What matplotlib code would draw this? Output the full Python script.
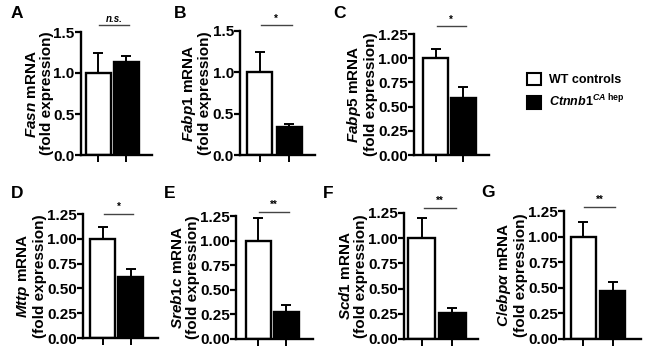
import matplotlib
matplotlib.use("Agg")
import matplotlib.pyplot as plt
from matplotlib.patches import Patch

plt.rcParams['font.family'] = ['Liberation Sans', 'DejaVu Sans']
plt.rcParams['font.weight'] = 'bold'
plt.rcParams['mathtext.fontset'] = 'custom'
plt.rcParams['mathtext.rm'] = 'Liberation Sans:bold'
plt.rcParams['mathtext.it'] = 'Liberation Sans:bold:italic'
plt.rcParams['mathtext.bf'] = 'Liberation Sans:bold'

# data
panels = ["A", "B", "C", "D", "E", "F", "G"]
genes = ["Fasn", "Fabp1", "Fabp5", "Mttp", "Sreb1c", "Scd1", r"C/ebp\alpha"]
wt_mean = [1.00, 1.00, 1.00, 1.00, 1.00, 1.00, 1.00]
wt_err = [0.24, 0.25, 0.095, 0.12, 0.23, 0.20, 0.14]
ca_mean = [1.13, 0.34, 0.59, 0.61, 0.27, 0.26, 0.47]
ca_err = [0.08, 0.04, 0.11, 0.09, 0.08, 0.05, 0.09]
sig = ["n.s.", "*", "*", "*", "**", "**", "**"]
y_max = [1.5, 1.5, 1.25, 1.25, 1.25, 1.25, 1.25]
y_ticks = [[0, 0.5, 1.0, 1.5], [0, 0.5, 1.0, 1.5]] + [[0, 0.25, 0.5, 0.75, 1.0, 1.25]] * 5
group_labels = ["WT controls", r"$\mathit{Ctnnb1}^{\mathit{CA}\ \mathrm{hep}}$"]

# pixel layout: axis left, axis right, bar centres, bar width, top, bottom
layout = {
    "A": (81, 152, 98, 126, 25, 32, 155),
    "B": (240, 315, 259.5, 289, 25, 31, 155),
    "C": (414, 489, 435.5, 463, 25, 34, 155),
    "D": (83, 158, 102.5, 130.5, 25, 214, 338),
    "E": (236, 313, 258, 286, 25, 216, 339),
    "F": (404, 478, 422, 452.5, 27, 213, 339),
    "G": (564, 641, 583, 612.5, 25, 211, 339),
}
letter_pos = {"A": (17, 13), "B": (180, 13), "C": (340, 13), "D": (17, 193),
              "E": (170, 193), "F": (328, 194), "G": (488, 192)}
sig_y = [1.58, 1.57, 1.33, 1.25, 1.29, 1.30, 1.29]

W, H = 650, 347
fig = plt.figure(figsize=(6.5, 3.47), dpi=100)

for i, p in enumerate(panels):
    L, R, c0, c1, bw, top, bot = layout[p]
    ax = fig.add_axes([L / W, 1 - bot / H, (R - L) / W, (bot - top) / H])
    u = c1 - c0
    width = bw / u
    ax.bar([0], [wt_mean[i]], width=width, color='white', edgecolor='black', linewidth=1.7, zorder=2)
    ax.bar([1], [ca_mean[i]], width=width, color='black', edgecolor='black', linewidth=1.7, zorder=2)
    ax.errorbar([0, 1], [wt_mean[i], ca_mean[i]], yerr=[[0, 0], [wt_err[i], ca_err[i]]],
                fmt='none', ecolor='black', elinewidth=1.4, capsize=3.5, capthick=1.4, zorder=1)
    ax.set_xlim((L - c0) / u, 1 + (R - c1) / u)
    ax.set_ylim(0, y_max[i])
    ax.set_yticks(y_ticks[i])
    if y_max[i] == 1.5:
        ax.set_yticklabels([f"{t:.1f}" for t in y_ticks[i]])
    else:
        ax.set_yticklabels([f"{t:.2f}" for t in y_ticks[i]])
    ax.set_xticks([0, 1])
    ax.set_xticklabels([])
    ax.tick_params(axis='y', length=4, width=1.6, labelsize=11, pad=0.5)
    ax.tick_params(axis='x', length=5, width=1.4)
    for s in ['top', 'right']:
        ax.spines[s].set_visible(False)
    for s in ['left', 'bottom']:
        ax.spines[s].set_linewidth(1.7)
    ax.set_ylabel(r"$\mathit{" + genes[i] + r"}$ mRNA" + "\n(fold expression)",
                  fontsize=11, fontweight='bold', labelpad=0, linespacing=1.05)
    # significance bar
    ax.plot([0.05, 1.1], [sig_y[i], sig_y[i]], color='#444444', linewidth=1.0, clip_on=False)
    ax.text(0.57, sig_y[i] + 0.015 * y_max[i], sig[i], ha='center', va='bottom',
            fontsize=7, style='italic' if sig[i] == "n.s." else 'normal',
            fontweight='bold', clip_on=False)
    lx, ly = letter_pos[p]
    fig.text(lx / W, 1 - ly / H, p, fontsize=12.5, fontweight='bold', ha='center', va='center')

handles = [Patch(facecolor='white', edgecolor='black', linewidth=1.5),
           Patch(facecolor='black', edgecolor='black', linewidth=1.5)]
fig.legend(handles, group_labels, loc='upper left', bbox_to_anchor=(518 / W, 1 - 64 / H),
           frameon=False, fontsize=9, handlelength=1.15, handleheight=1.15,
           labelspacing=0.55, handletextpad=0.6, borderpad=0.2)

fig.savefig("out.png", dpi=100)
